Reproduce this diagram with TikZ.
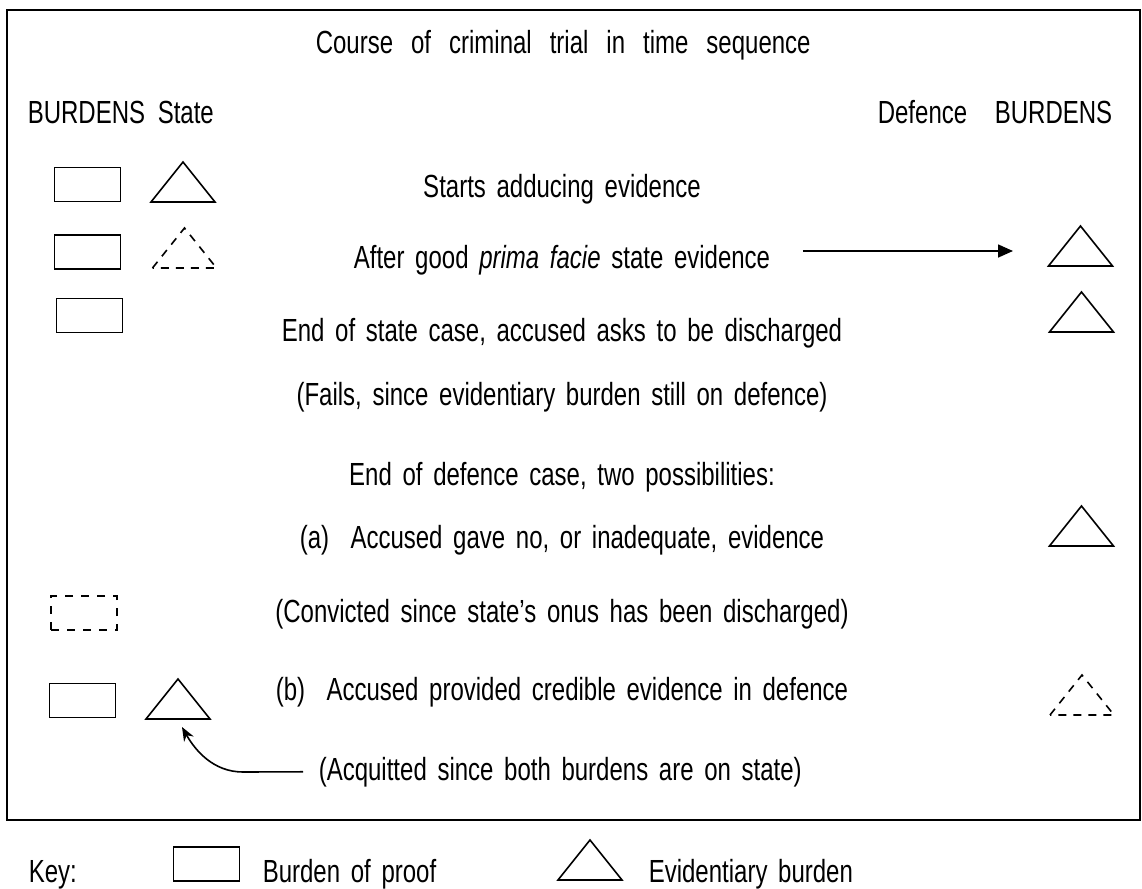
\documentclass[tikz,border=0pt]{standalone}
\usepackage{fontspec}
\setmainfont{Liberation Sans}[FakeStretch=0.75,WordSpace=1.6]
\newfontfamily\titlefont{Liberation Sans}[FakeStretch=0.75,WordSpace=2.7]
\usetikzlibrary{arrows.meta}

\begin{document}
\begin{tikzpicture}[x=0.5pt,y=-0.5pt,line width=0.8pt,
  every node/.style={font=\fontsize{16}{19}\selectfont},
  txt/.style={anchor=base,inner sep=0pt},
  bop/.style={draw,rectangle,minimum width=33pt,minimum height=17pt,inner sep=0pt},
  bopgone/.style={bop,dash pattern=on 4pt off 4pt},
  evgone/.style={dash pattern=on 4pt off 3.5pt},
  evtri/.pic={\draw (-32,0) -- (0,-40) -- (32,0) -- cycle;}]
  \useasboundingbox (0,0) rectangle (1142,889);
  % 外框
  \draw (7,10) rectangle (1140,820);

  % 标题与表头
  \node[txt,anchor=base west,font=\titlefont\fontsize{16}{19}\selectfont] (title) at (315,53)
    {Course of criminal trial in time sequence};
  \node[txt,anchor=base west] (burdL) at (27,123) {BURDENS};
  \node[txt,anchor=base west] (state) at (157,123) {State};
  \node[txt,anchor=base east] (defence) at (968,123) {Defence};
  \node[txt,anchor=base east] (burdR) at (1113,123) {BURDENS};

  % 时间顺序
  \node[txt] (start) at (562,197) {Starts adducing evidence};
  \node[txt] (after) at (562,268) {After good \textit{prima facie} state evidence};
  \node[txt] (endstate) at (562,341) {End of state case, accused asks to be discharged};
  \node[txt] (fails) at (562,405) {(Fails, since evidentiary burden still on defence)};
  \node[txt] (enddef) at (562,485) {End of defence case, two possibilities:};
  \node[txt] (casea) at (562,548) {(a)\ \ Accused gave no, or inadequate, evidence};
  \node[txt] (convict) at (562,622) {(Convicted since state's onus has been discharged)};
  \node[txt] (caseb) at (562,700) {(b)\ \ Accused provided credible evidence in defence};
  \node[txt,anchor=base west] (acq) at (318,780) {(Acquitted since both burdens are on state)};

  % 证明责任 (矩形)
  \node[bop] (bop1) at (87.5,184.5) {};
  \node[bop] (bop2) at (87.5,252) {};
  \node[bop] (bop3) at (89.5,315.5) {};
  \node[bopgone] (bop4) at (84,613) {};
  \node[bop] (bop5) at (82.5,700.5) {};

  % 举证责任 (三角形)
  \pic at (183,202) {evtri};
  \pic[evgone] at (184.5,268) {evtri};
  \pic at (178,719) {evtri};
  \pic at (1080.5,266) {evtri};
  \pic at (1081.5,332) {evtri};
  \pic at (1081.5,546) {evtri};
  \pic[evgone] at (1082,715) {evtri};

  % 箭头
  \coordinate (aftertip) at (1013,251);
  \coordinate (acqtip) at (182,727);
  \draw[-{Triangle[length=7.5pt,width=6.5pt]},shorten <=16pt] (after.east |- aftertip) -- (aftertip);
  \draw[-{Stealth[length=7pt,width=5.5pt]},shorten <=7.5pt] (acq.west) -- (243,772)
    .. controls (213,772) and (195,750) .. (acqtip);

  % 图例
  \node[txt,anchor=base west] (key) at (28,882) {Key:};
  \node[bop] (keybop) at (206.5,864) {};
  \node[txt,anchor=base west] (keybopt) at (262,882) {Burden of proof};
  \pic at (590,880) {evtri};
  \node[txt,anchor=base west] (keyevt) at (648,882) {Evidentiary burden};
\end{tikzpicture}
\end{document}
